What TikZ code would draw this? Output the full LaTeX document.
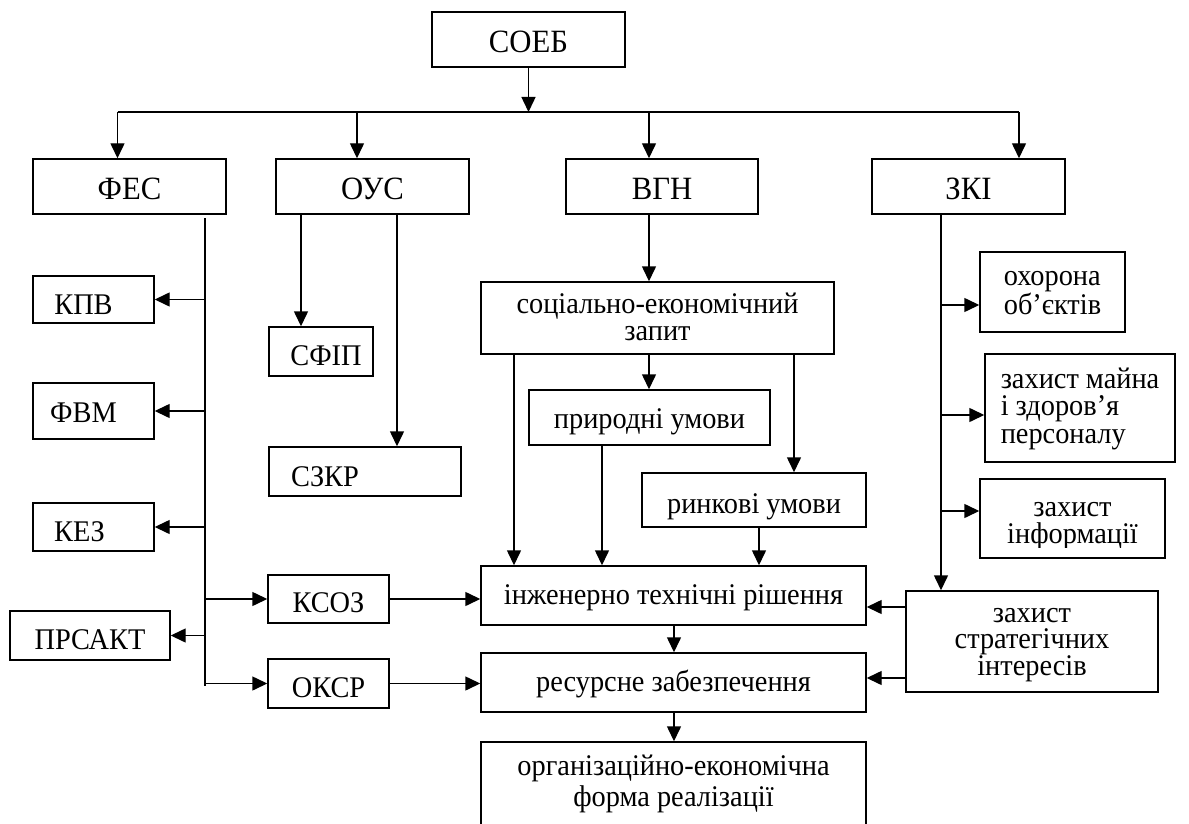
\documentclass[tikz,border=0pt]{standalone}
\usepackage{fontspec}
\setmainfont{Liberation Serif}[FakeStretch=0.945]
\usetikzlibrary{arrows.meta}
\newcommand\tx[3]{\rule{0pt}{#1pt}#3\rule[-#2pt]{0pt}{#2pt}}
\begin{document}
\begin{tikzpicture}[x=1pt,y=-1pt,
 box/.style={draw, line width=1.45pt, inner sep=0pt, align=center, font=\fontsize{30pt}{27pt}\selectfont},
 tbox/.style={box, font=\fontsize{32.5pt}{32pt}\selectfont},
 txt/.style={inner sep=0pt, align=center, font=\fontsize{30pt}{27pt}\selectfont},
 arr/.style={line width=1.45pt, -{Triangle[length=15pt,width=14pt]}},
 ln/.style={line width=1.45pt}]
\useasboundingbox (0,0) rectangle (1189,824);
% top level
\node[tbox, minimum width=193pt, minimum height=55pt] (soeb) at (528.5,39.5) {\tx{33.4}{7}{СОЕБ}};
\node[tbox, minimum width=193pt, minimum height=55pt] (fes) at (129.5,186.5) {\tx{34}{7}{ФЕС}};
\node[tbox, minimum width=193pt, minimum height=55pt] (ous) at (372.5,186.5) {\tx{34}{7}{ОУС}};
\node[tbox, minimum width=192pt, minimum height=55pt] (vgn) at (662,186.5) {\tx{34}{7}{ВГН}};
\node[tbox, minimum width=193pt, minimum height=55pt] (zki) at (968.5,186.5) {\tx{34}{7}{ЗКІ}};
% left column
\node[box, minimum width=121pt, minimum height=47pt] (kpv) at (93.5,299.5) {\tx{36}{7}{КПВ}\hspace*{20pt}};
\node[box, minimum width=121pt, minimum height=56pt] (fvm) at (93.5,411) {\tx{30.4}{7}{ФВМ}\hspace*{20pt}};
\node[box, minimum width=121pt, minimum height=48pt] (kez) at (93.5,527) {\tx{35}{7}{КЕЗ}\hspace*{28pt}};
\node[box, minimum width=160pt, minimum height=49pt] (prs) at (90,635.5) {\tx{34.6}{7}{ПРСАКТ}};
\node[box, minimum width=121pt, minimum height=48pt] (ksoz) at (328.5,599) {\tx{34.4}{7}{КСОЗ}};
\node[box, minimum width=121pt, minimum height=49pt] (oksr) at (328.5,683.5) {\tx{34.6}{7}{ОКСР}};
% OUS column
\node[box, minimum width=104pt, minimum height=49pt] (sfip) at (321,351.5) {\hspace*{10pt}\tx{35.4}{7}{СФІП}};
\node[box, minimum width=192pt, minimum height=49pt] (szkr) at (365,471.5) {\tx{36}{7}{СЗКР}\hspace*{80pt}};
% VGN column
\node[box, minimum width=353pt, minimum height=72pt] (soc) at (657.5,318) {\tx{24.6}{7}{соціально-економічний\\запит}};
\node[box, minimum width=241pt, minimum height=55pt] (pryr) at (649.5,417.5) {\tx{28.6}{7}{природні умови}};
\node[box, minimum width=224pt, minimum height=54pt] (rynk) at (754,500) {\tx{33}{7}{ринкові умови}};
\node[box, minimum width=385pt, minimum height=59pt] (inzh) at (673.5,595.5) {\tx{24.6}{7}{інженерно технічні рішення}};
\node[box, minimum width=385pt, minimum height=59pt] (res) at (673.5,682.5) {\tx{25.4}{7}{ресурсне забезпечення}};
\node[box, minimum width=385pt, minimum height=90pt, font=\fontsize{30pt}{31pt}\selectfont] (org) at (673.5,787) {\tx{21}{12.5}{організаційно-економічна\\форма реалізації}};
% ZKI column
\node[box, minimum width=145pt, minimum height=80pt, align=left, font=\fontsize{30pt}{26.6pt}\selectfont] (okh) at (1052.5,292) {\tx{23}{7}{охорона\\об’єктів}};
\node[box, minimum width=190pt, minimum height=108pt, align=left, font=\fontsize{30pt}{27.5pt}\selectfont] (mayna) at (1080,408) {\tx{22}{7}{захист майна\\і здоров’я\\персоналу}};
\node[box, minimum width=185pt, minimum height=79pt] (inf) at (1072.5,518.5) {};
\begin{scope}
\clip (980,479) rectangle (1165,547);
\node[txt] (inftxt) at (1072.5,518.5) {\tx{30.4}{7}{захист\\інформації}};
\end{scope}
\node[box, minimum width=252pt, minimum height=101pt, font=\fontsize{30pt}{26pt}\selectfont] (strat) at (1032,641.5) {\tx{22.6}{7}{захист\\стратегічних\\інтересів}};
% connectors: top
\coordinate (h1) at (117.5,112);
\coordinate (h2) at (357,112);
\coordinate (h3) at (649,112);
\coordinate (h4) at (1019,112);
\draw[ln] (h1) -- (h4);
\draw[arr] (soeb.south) -- (soeb.south |- h1);
\draw[arr] (h1) -- (h1 |- fes.north);
\draw[arr] (h2) -- (h2 |- ous.north);
\draw[arr] (h3) -- (h3 |- vgn.north);
\draw[arr] (h4) -- (h4 |- zki.north);
% FES line
\coordinate (f0) at (205,218);
\coordinate (f1) at (205,686);
\draw[ln] (f0) -- (f1);
\draw[arr] (f0 |- kpv.east) -- (kpv.east);
\draw[arr] (f0 |- fvm.east) -- (fvm.east);
\draw[arr] (f0 |- kez.east) -- (kez.east);
\draw[arr] (f0 |- prs.east) -- (prs.east);
\draw[arr] (f0 |- ksoz.west) -- (ksoz.west);
\draw[arr] (f0 |- oksr.west) -- (oksr.west);
\draw[arr] (ksoz.east) -- (ksoz.east -| inzh.west);
\draw[arr] (oksr.east) -- (oksr.east -| res.west);
% OUS lines
\coordinate (o1) at (301,0);
\coordinate (o2) at (397,0);
\draw[arr] (ous.south -| o1) -- (sfip.north -| o1);
\draw[arr] (ous.south -| o2) -- (szkr.north -| o2);
% VGN
\coordinate (xa) at (514,0);
\coordinate (xb) at (794,0);
\coordinate (xc) at (602,0);
\coordinate (xd) at (759,0);
\coordinate (xe) at (674,0);
\draw[arr] (vgn.south -| h3) -- (soc.north -| h3);
\draw[arr] (soc.south -| h3) -- (pryr.north -| h3);
\draw[arr] (soc.south -| xa) -- (inzh.north -| xa);
\draw[arr] (soc.south -| xb) -- (rynk.north -| xb);
\draw[arr] (pryr.south -| xc) -- (inzh.north -| xc);
\draw[arr] (rynk.south -| xd) -- (inzh.north -| xd);
\draw[arr] (inzh.south -| xe) -- (res.north -| xe);
\draw[arr] (res.south -| xe) -- (org.north -| xe);
% ZKI
\coordinate (xz) at (941,0);
\coordinate (y1) at (0,305);
\coordinate (y2) at (0,415);
\coordinate (y3) at (0,511);
\coordinate (y4) at (0,607);
\coordinate (y5) at (0,678);
\draw[arr] (zki.south -| xz) -- (strat.north -| xz);
\draw[arr] (xz |- y1) -- (okh.west |- y1);
\draw[arr] (xz |- y2) -- (mayna.west |- y2);
\draw[arr] (xz |- y3) -- (inf.west |- y3);
\draw[arr] (strat.west |- y4) -- (inzh.east |- y4);
\draw[arr] (strat.west |- y5) -- (res.east |- y5);
\end{tikzpicture}
\end{document}
